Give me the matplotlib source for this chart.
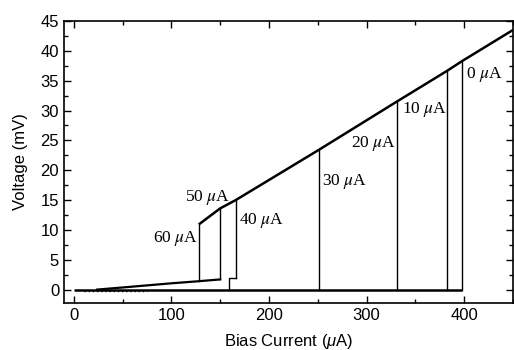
import matplotlib
matplotlib.use("Agg")
import matplotlib.pyplot as plt
from matplotlib.ticker import MultipleLocator

plt.rcParams['font.family'] = ['Liberation Sans', 'DejaVu Sans']
plt.rcParams['mathtext.fontset'] = 'custom'
plt.rcParams['mathtext.it'] = 'Liberation Sans:italic'
plt.rcParams['mathtext.rm'] = 'Liberation Sans'

# Resistive (normal-state) branch: bias current (uA) vs voltage (mV)
res_current = [128, 150, 166, 251, 331, 382, 398, 450]
res_voltage = [10.9, 13.6, 15.0, 23.4, 31.5, 36.6, 38.3, 43.5]

# Sub-gap branch followed before switching
sub_current = [24, 50, 75, 100, 128, 150]
sub_voltage = [0.0, 0.35, 0.7, 1.05, 1.4, 1.7]

# Control currents and the switching currents they produce
control = ["0", "10", "20", "30", "40", "50", "60"]
switch_current = [398, 382, 331, 251, 166, 150, 128]
switch_low = [0.0, 0.0, 0.0, 0.0, 1.9, 1.7, 1.4]
switch_high = [38.3, 36.6, 31.5, 23.4, 15.0, 13.6, 10.9]

# 40 uA trace: small step before switching
step_current = [159, 159, 166]
step_voltage = [0.0, 1.9, 1.9]

# Label anchor positions (data units)
label_x = [421, 359, 307, 278, 192, 137, 104]
label_y = [36.1, 30.2, 24.5, 18.1, 11.6, 15.5, 8.6]

fig = plt.figure(figsize=(5.14, 3.5), dpi=100)
ax = fig.add_axes([64 / 514, 1 - 302.7 / 350, (513 - 64) / 514, (302.7 - 21) / 350])

# zero-voltage state
ax.plot([0, max(switch_current)], [0, 0], color='black', lw=1.8, solid_capstyle='butt')
ax.plot([11, 75], [-0.3, -0.3], color='black', lw=1.0, ls=(0, (1, 2)))
ax.plot(sub_current, sub_voltage, color='black', lw=1.6)
ax.plot(step_current, step_voltage, color='black', lw=1.0)
ax.plot(res_current, res_voltage, color='black', lw=1.8, solid_capstyle='butt')

for xs, lo, hi in zip(switch_current, switch_low, switch_high):
    ax.plot([xs, xs], [lo, hi], color='black', lw=1.0)

for c, lx, ly in zip(control, label_x, label_y):
    ax.text(lx, ly, c + r' $\mu$A', ha='center', va='center',
            fontsize=12.5, family='Liberation Serif',
            math_fontfamily='stix')

ax.set_xlim(-10, 450)
ax.set_ylim(-2.2, 45)
ax.xaxis.set_major_locator(MultipleLocator(100))
ax.xaxis.set_minor_locator(MultipleLocator(50))
ax.yaxis.set_major_locator(MultipleLocator(5))
ax.yaxis.set_minor_locator(MultipleLocator(2.5))
ax.tick_params(which='both', direction='in', top=True, right=True, labelsize=12, width=1.0)
ax.tick_params(which='major', length=5)
ax.tick_params(which='minor', length=3)
for s in ax.spines.values():
    s.set_linewidth(1.2)

ax.set_xlabel(r'Bias Current ($\mu$A)', fontsize=12, labelpad=7)
ax.set_ylabel('Voltage (mV)', fontsize=12, labelpad=9)

fig.savefig('out.png', dpi=100)
